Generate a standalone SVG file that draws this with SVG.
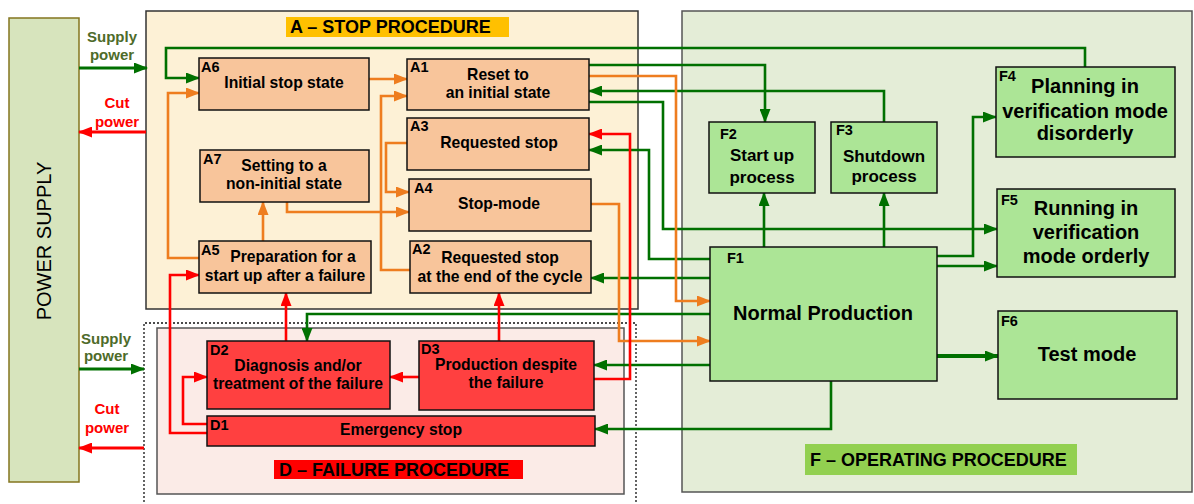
<svg xmlns="http://www.w3.org/2000/svg" width="1194" height="504" viewBox="0 0 1194 504">
<style>
text{font-family:"Liberation Sans",Arial,sans-serif;font-weight:bold;fill:#000}
.t{font-size:15.7px;text-anchor:middle}
.p{font-size:15px;text-anchor:middle}
.tm{font-size:17px;text-anchor:middle}
.tl{font-size:20px;text-anchor:middle}
.c{font-size:14.5px}
.sec{font-size:18px}
.na{fill:#f8c59b;stroke:#111;stroke-width:1.5}
.nf{fill:#ace596;stroke:#111;stroke-width:1.5}
.nd{fill:#ff4040;stroke:#111;stroke-width:1.5}
.cg{stroke:#007000;stroke-width:2.6;fill:none;marker-end:url(#ag)}
.co{stroke:#ee7d1f;stroke-width:2.6;fill:none;marker-end:url(#ao)}
.cr{stroke:#ff0000;stroke-width:2.6;fill:none;marker-end:url(#ar)}
</style>
<defs>
<marker id="ag" viewBox="0 0 14 11" refX="13" refY="5.5" markerWidth="14" markerHeight="11" markerUnits="userSpaceOnUse" orient="auto"><path d="M0,0 L14,5.5 L0,11 z" fill="#007000"/></marker>
<marker id="ao" viewBox="0 0 14 11" refX="13" refY="5.5" markerWidth="14" markerHeight="11" markerUnits="userSpaceOnUse" orient="auto"><path d="M0,0 L14,5.5 L0,11 z" fill="#ee7d1f"/></marker>
<marker id="ar" viewBox="0 0 14 11" refX="13" refY="5.5" markerWidth="14" markerHeight="11" markerUnits="userSpaceOnUse" orient="auto"><path d="M0,0 L14,5.5 L0,11 z" fill="#ff0000"/></marker>
</defs>
<rect width="1194" height="504" fill="#fff"/>

<g id="power-supply">
<rect x="9" y="18" width="70" height="464" fill="#d7e4bd" stroke="#84761f" stroke-width="1.5"/>
<text transform="translate(51,241) rotate(-90)" style="font-size:20px;font-weight:normal;text-anchor:middle">POWER SUPPLY</text>
</g>

<g id="section-A">
<rect x="146" y="11" width="492" height="298" fill="#fdf1d6" stroke="#333" stroke-width="1.5"/>
<rect x="286" y="17" width="223" height="20" fill="#ffc000"/>
<text class="sec" x="290" y="33">A – STOP PROCEDURE</text>
</g>
<g id="section-F">
<rect x="682" y="11" width="510" height="481" fill="#e4edd7" stroke="#555" stroke-width="1.5"/>
<rect x="805" y="444" width="272" height="31" fill="#92d050"/>
<text class="sec" x="810" y="466">F – OPERATING PROCEDURE</text>
</g>
<g id="section-D">
<path d="M144,506 V323 H636 V506" fill="none" stroke="#111" stroke-width="1.3" stroke-dasharray="2,2"/>
<rect x="157" y="328" width="467" height="166" fill="#fbebe7" stroke="#555" stroke-width="1.5"/>
<rect x="274" y="460" width="249" height="19" fill="#ff0000"/>
<text class="sec" x="279" y="476">D – FAILURE PROCEDURE</text>
</g>

<g id="labels">
<text class="p" x="112" y="42" style="fill:#4e6b2a">Supply</text>
<text class="p" x="112" y="60" style="fill:#4e6b2a">power</text>
<text class="p" x="117" y="108" style="fill:#ff0000">Cut</text>
<text class="p" x="117" y="127" style="fill:#ff0000">power</text>
<text class="p" x="106" y="344" style="fill:#4e6b2a">Supply</text>
<text class="p" x="106" y="361" style="fill:#4e6b2a">power</text>
<text class="p" x="107" y="414" style="fill:#ff0000">Cut</text>
<text class="p" x="107" y="433" style="fill:#ff0000">power</text>
</g>

<g id="connectors">
<path class="cg" d="M79,68 H147" style="stroke-width:3"/>
<path class="cg" d="M79,369 H144" style="stroke-width:3"/>
<path class="cr" d="M146,132 H79" style="stroke-width:3"/>
<path class="cr" d="M144,448 H79" style="stroke-width:3"/>
<path class="cg" d="M1085,67 V48 H166 V78 H199"/>
<path class="cg" d="M589,65 H765 V122"/>
<path class="cg" d="M884,122 V91 H589"/>
<path class="cg" d="M589,102 H663 V229 H997"/>
<path class="cg" d="M710,259 H649 V150 H589"/>
<path class="cg" d="M710,278 H591"/>
<path class="cg" d="M710,314 H307 V341"/>
<path class="cg" d="M710,365 H594"/>
<path class="cg" d="M831,381 V429 H595"/>
<path class="cg" d="M764,247 V193"/>
<path class="cg" d="M884,247 V193"/>
<path class="cg" d="M937,256 H973 V117 H996"/>
<path class="cg" d="M937,266 H997"/>
<path class="cg" d="M937,356 H998" style="stroke-width:4"/>
<path class="co" d="M369,79 H407"/>
<path class="co" d="M410,270 H381 V96 H407"/>
<path class="co" d="M407,143 H386 V192 H409"/>
<path class="co" d="M287,202 V212 H409"/>
<path class="co" d="M263,241 V202"/>
<path class="co" d="M199,258 H168 V93 H199"/>
<path class="co" d="M589,76 H676 V301 H710"/>
<path class="co" d="M591,204 H619 V341 H710"/>
<path class="cr" d="M286,341 V293"/>
<path class="cr" d="M499,341 V293"/>
<path class="cr" d="M419,377 H390"/>
<path class="cr" d="M207,424 H183 V377 H207"/>
<path class="cr" d="M207,433 H170 V275 H199"/>
<path class="cr" d="M594,379 H630 V134 H589"/>
</g>

<g id="A6"><rect class="na" x="199" y="58" width="170" height="52"/><text class="c" x="201" y="72">A6</text><text class="t" x="284" y="88">Initial stop state</text></g>
<g id="A1"><rect class="na" x="407" y="59" width="182" height="51"/><text class="c" x="410" y="72">A1</text><text class="t" x="498" y="80">Reset to</text><text class="t" x="498" y="98">an initial state</text></g>
<g id="A3"><rect class="na" x="407" y="118" width="182" height="52"/><text class="c" x="410" y="131">A3</text><text class="t" x="499" y="148">Requested stop</text></g>
<g id="A4"><rect class="na" x="409" y="179" width="182" height="52"/><text class="c" x="414" y="193">A4</text><text class="t" x="499" y="209">Stop-mode</text></g>
<g id="A2"><rect class="na" x="410" y="241" width="181" height="52"/><text class="c" x="412" y="254">A2</text><text class="t" x="500" y="263">Requested stop</text><text class="t" x="500" y="282">at the end of the cycle</text></g>
<g id="A7"><rect class="na" x="200" y="150" width="169" height="52"/><text class="c" x="203" y="164">A7</text><text class="t" x="284" y="171">Setting to a</text><text class="t" x="284" y="189">non-initial state</text></g>
<g id="A5"><rect class="na" x="199" y="241" width="172" height="52"/><text class="c" x="201" y="255">A5</text><text class="t" x="293" y="262">Preparation for a</text><text class="t" x="285" y="281">start up after a failure</text></g>

<g id="F1"><rect class="nf" x="710" y="247" width="227" height="134"/><text class="c" x="727" y="263">F1</text><text class="tl" x="823" y="320">Normal Production</text></g>
<g id="F2"><rect class="nf" x="709" y="122" width="106" height="71"/><text class="c" x="720" y="139">F2</text><text class="tm" x="762" y="161">Start up</text><text class="tm" x="762" y="183">process</text></g>
<g id="F3"><rect class="nf" x="831" y="122" width="106" height="71"/><text class="c" x="836" y="135">F3</text><text class="tm" x="884" y="162">Shutdown</text><text class="tm" x="884" y="182">process</text></g>
<g id="F4"><rect class="nf" x="996" y="67" width="179" height="90"/><text class="c" x="999" y="81">F4</text><text class="tl" x="1085" y="93">Planning in</text><text class="tl" x="1085" y="118">verification mode</text><text class="tl" x="1085" y="140">disorderly</text></g>
<g id="F5"><rect class="nf" x="997" y="189" width="178" height="88"/><text class="c" x="1001" y="205">F5</text><text class="tl" x="1086" y="215">Running in</text><text class="tl" x="1086" y="239">verification</text><text class="tl" x="1086" y="263">mode orderly</text></g>
<g id="F6"><rect class="nf" x="998" y="311" width="179" height="88"/><text class="c" x="1001" y="326">F6</text><text class="tl" x="1087" y="361">Test mode</text></g>

<g id="D2"><rect class="nd" x="207" y="341" width="183" height="68"/><text class="c" x="210" y="355">D2</text><text class="t" x="298" y="371">Diagnosis and/or</text><text class="t" x="298" y="389">treatment of the failure</text></g>
<g id="D3"><rect class="nd" x="419" y="341" width="175" height="69"/><text class="c" x="421" y="354">D3</text><text class="t" x="506" y="370">Production despite</text><text class="t" x="506" y="388">the failure</text></g>
<g id="D1"><rect class="nd" x="207" y="416" width="388" height="30"/><text class="c" x="210" y="430">D1</text><text class="t" x="401" y="435">Emergency stop</text></g>
</svg>
